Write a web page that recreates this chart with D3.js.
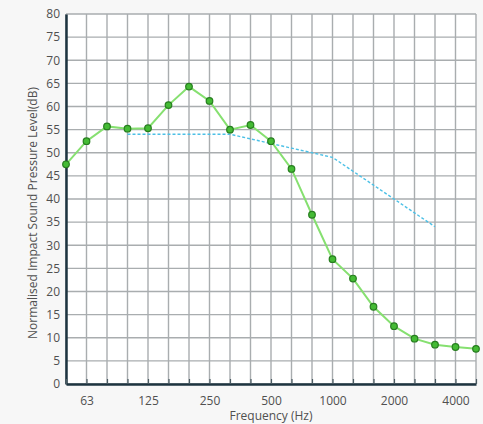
<!DOCTYPE html>
<html>
<head>
<meta charset="utf-8">
<script src="https://cdn.jsdelivr.net/npm/d3@7"></script>
<style>
  body { margin: 0; background: #f7f7f7; }
  text { font-family: "Open Sans", "Noto Sans", sans-serif; fill: #505050; }
</style>
</head>
<body>
<div id="chart"></div>
<script>
// one-third octave bands, 50 Hz .. 5000 Hz
var bands = ["50","63","80","100","125","160","200","250","315","400","500","630","800","1000","1250","1600","2000","2500","3150","4000","5000"];
var bandLabels = ["63","125","250","500","1000","2000","4000"];

// measured normalised impact sound pressure level
var measured = [47.5,52.5,55.7,55.2,55.3,60.3,64.3,61.2,55.0,56.0,52.5,46.5,36.6,27.0,22.8,16.7,12.5,9.8,8.5,8.0,7.6];

// shifted reference curve, 100 Hz .. 3150 Hz
var refBands = ["100","125","160","200","250","315","400","500","630","800","1000","1250","1600","2000","2500","3150"];
var refValues = [54,54,54,54,54,54,53,52,51,50,49,46,43,40,37,34];

var yTicks = d3.range(0, 81, 5);

var width = 483, height = 424;
var margin = {top: 14, right: 7, bottom: 40, left: 66};

var svg = d3.select("#chart").append("svg")
    .attr("width", width)
    .attr("height", height);

var x = d3.scalePoint()
    .domain(bands)
    .range([margin.left, width - margin.right]);

var y = d3.scaleLinear()
    .domain([0, 80])
    .range([height - margin.bottom, margin.top]);

// plot background
svg.append("rect")
    .attr("x", margin.left)
    .attr("y", margin.top)
    .attr("width", x.range()[1] - margin.left)
    .attr("height", y(0) - margin.top)
    .attr("fill", "#ffffff");

// grid
svg.append("g").selectAll("line")
    .data(bands)
    .enter().append("line")
    .attr("x1", function(d) { return x(d); })
    .attr("x2", function(d) { return x(d); })
    .attr("y1", y(80))
    .attr("y2", y(0))
    .attr("stroke", "#a9adaf")
    .attr("stroke-width", 1.4);

svg.append("g").selectAll("line")
    .data(yTicks)
    .enter().append("line")
    .attr("x1", margin.left)
    .attr("x2", x.range()[1])
    .attr("y1", function(d) { return y(d); })
    .attr("y2", function(d) { return y(d); })
    .attr("stroke", "#a9adaf")
    .attr("stroke-width", 1.4);

// y axis
var yAxis = d3.axisLeft(y)
    .tickValues(yTicks)
    .tickSize(0)
    .tickPadding(6);

var gy = svg.append("g")
    .attr("transform", "translate(" + margin.left + ",0)")
    .call(yAxis);
gy.select(".domain").attr("stroke", "#1e3440").attr("stroke-width", 2.5);
gy.selectAll("text").style("font-size", "12px").attr("fill", "#505050");

// x axis
var xAxis = d3.axisBottom(x)
    .tickSize(-5)
    .tickSizeOuter(0)
    .tickPadding(12)
    .tickFormat(function(d) { return bandLabels.indexOf(d) >= 0 ? d : ""; });

var gx = svg.append("g")
    .attr("transform", "translate(0," + y(0) + ")")
    .call(xAxis);
gx.select(".domain").attr("stroke", "#1e3440").attr("stroke-width", 2.5);
gx.selectAll(".tick line").attr("stroke", "#4a5a62").attr("stroke-width", 1.2);
gx.selectAll("text").style("font-size", "12px").attr("fill", "#505050");

// axis titles
svg.append("text")
    .attr("x", (margin.left + x.range()[1]) / 2)
    .attr("y", 420)
    .attr("text-anchor", "middle")
    .style("font-size", "12px")
    .text("Frequency (Hz)");

svg.append("text")
    .attr("transform", "translate(37,213) rotate(-90)")
    .attr("text-anchor", "middle")
    .style("font-size", "12px")
    .text("Normalised Impact Sound Pressure Level(dB)");

// reference curve
var refLine = d3.line()
    .x(function(d, i) { return x(refBands[i]); })
    .y(function(d) { return y(d); });

svg.append("path")
    .datum(refValues)
    .attr("d", refLine)
    .attr("fill", "none")
    .attr("stroke", "#4cc0e6")
    .attr("stroke-width", 1.4)
    .attr("stroke-dasharray", "3,2");

// measured curve
var line = d3.line()
    .x(function(d, i) { return x(bands[i]); })
    .y(function(d) { return y(d); });

svg.append("path")
    .datum(measured)
    .attr("d", line)
    .attr("fill", "none")
    .attr("stroke", "#86e070")
    .attr("stroke-width", 2);

svg.append("g").selectAll("circle")
    .data(measured)
    .enter().append("circle")
    .attr("cx", function(d, i) { return x(bands[i]); })
    .attr("cy", function(d) { return y(d); })
    .attr("r", 3.3)
    .attr("fill", "#44bb34")
    .attr("stroke", "#267d1e")
    .attr("stroke-width", 1.2);
</script>
</body>
</html>
